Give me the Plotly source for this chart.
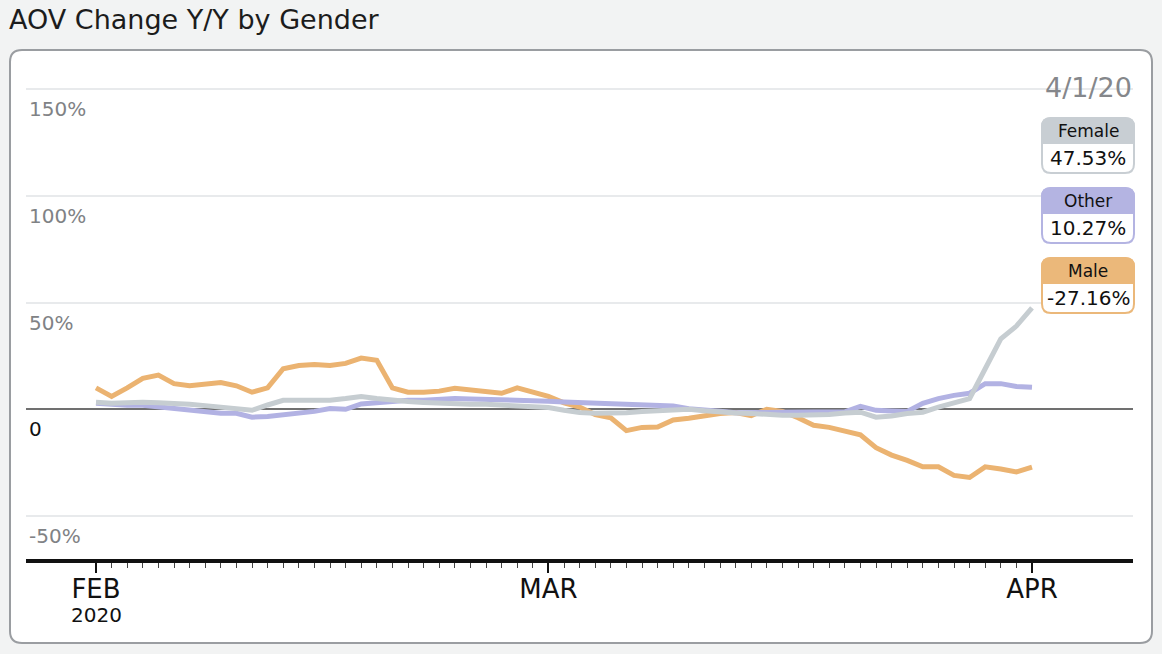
import pandas as pd
import plotly.graph_objects as go

# ---------------- data ----------------
dates = pd.date_range("2020-02-01", "2020-04-01", freq="D")

male = [10, 6, 10, 14.5, 16, 12, 11, 12, 12.5, 11,
        8, 10, 19, 20.5, 21, 20.5, 21.5, 24, 23, 10,
        8, 8, 8.5, 9.8, 9, 8.5, 7.5, 10, 8, 6,
        3, 1, -2.5, -4, -10, -8.5, -8.3, -5, -4.2, -2.8,
        -2, -1.5, -3, 0, -1, -4, -7.5, -8.5, -10, -12,
        -18, -21.5, -24, -27, -27, -31, -32, -27, -28, -29.4, -27.16]

female = [3.3, 2.8, 3, 3.3, 3, 2.8, 2.3, 1.7, 1, 0.3,
          -0.5, 2, 4.2, 4.2, 4.2, 4.2, 5, 6, 5, 4.2,
          3.6, 3.2, 2.8, 2.6, 2.4, 2.3, 2, 1.7, 1.4, 0.8,
          -0.5, -1.5, -1.9, -1.9, -1.6, -1, -0.6, -0.2, 0, -0.7,
          -1.4, -1.7, -2, -2.5, -2.8, -2.8, -2.8, -2.5, -1.8, -1.4,
          -3.7, -3.2, -2, -1.4, 1, 3, 5, 19, 33, 39, 47.53]

other = [2.8, 2.3, 1.9, 1.9, 1.2, 0.5, -0.3, -1.1, -1.9, -1.9,
         -3.7, -3.4, -2.7, -1.8, -1, 0.3, 0, 2.5, 3.2, 3.7,
         4.2, 4.2, 4.8, 5, 4.8, 4.7, 4.5, 4.4, 4.2, 3.8,
         3.4, 3.1, 2.9, 2.6, 2.3, 2, 1.8, 1.5, 0.2, -0.6,
         -0.9, -1.6, -1.8, -1.5, -1.4, -1.4, -1.4, -1.4, -1.2, 1.4,
         -0.5, -0.8, -1, 2.8, 5, 6.5, 7.5, 12, 12, 10.7, 10.27]

series_names = ["Female", "Other", "Male"]
y_tick_vals = [-50, 0, 50, 100, 150]
y_tick_text = ["-50%", "0", "50%", "100%", "150%"]
month_ticks = ["2020-02-01", "2020-03-01", "2020-04-01"]
month_labels = ["FEB", "MAR", "APR"]
title_text = "AOV Change Y/Y by Gender"

# ---------------- styling / layout ----------------
W, H = 1162, 654
ML, MR, MT, MB = 26, 29, 88, 95
PW, PH = W - ML - MR, H - MT - MB
FONT = "DejaVu Sans"

colors = {"Female": "#c6cdd1", "Other": "#b2b2e3", "Male": "#ebb371"}
heads = {"Female": "#c8ced3", "Other": "#b4b4e2", "Male": "#ebb87a"}
values = {"Female": female, "Other": other, "Male": male}


def px(x):
    return (x - ML) / PW


def py(y):
    return (H - MB - y) / PH


def rrect(x0, y0, x1, y1, r, top_only=False):
    pts = []
    pts.append(f"M {px(x0 + r)},{py(y0)}")
    pts.append(f"L {px(x1 - r)},{py(y0)}")
    pts.append(f"Q {px(x1)},{py(y0)} {px(x1)},{py(y0 + r)}")
    if top_only:
        pts.append(f"L {px(x1)},{py(y1)}")
        pts.append(f"L {px(x0)},{py(y1)}")
    else:
        pts.append(f"L {px(x1)},{py(y1 - r)}")
        pts.append(f"Q {px(x1)},{py(y1)} {px(x1 - r)},{py(y1)}")
        pts.append(f"L {px(x0 + r)},{py(y1)}")
        pts.append(f"Q {px(x0)},{py(y1)} {px(x0)},{py(y1 - r)}")
    pts.append(f"L {px(x0)},{py(y0 + r)}")
    pts.append(f"Q {px(x0)},{py(y0)} {px(x0 + r)},{py(y0)}")
    pts.append("Z")
    return " ".join(pts)


fig = go.Figure()
for name in ["Male", "Other", "Female"]:
    fig.add_trace(go.Scatter(
        x=dates, y=values[name], mode="lines", name=name,
        line=dict(color=colors[name], width=5, shape="linear"),
        hoverinfo="skip", showlegend=False,
    ))

shapes = []
# card
shapes.append(dict(type="path", xref="paper", yref="paper",
                   path=rrect(10, 50, 1152, 643, 12),
                   fillcolor="white", line=dict(color="#9a9da1", width=2),
                   layer="below"))
# white cover behind end label area (hides gridline ends)
shapes.append(dict(type="rect", xref="paper", yref="paper",
                   x0=px(1037), x1=px(1145), y0=py(320), y1=py(70),
                   fillcolor="white", line=dict(width=0), layer="between"))

annotations = [
    dict(text=title_text, x=px(7), y=py(19), xref="paper", yref="paper",
         xanchor="left", yanchor="middle", showarrow=False,
         font=dict(family=FONT, size=27, color="#1c1c1c")),
    dict(text=f"{dates[-1].month}/{dates[-1].day}/{dates[-1].strftime('%y')}",
         x=px(1134), y=py(87), xref="paper", yref="paper",
         xanchor="right", yanchor="middle", showarrow=False,
         font=dict(family=FONT, size=27, color="#85878b")),
    dict(text=str(dates[0].year), x=dates[0], y=py(615), xref="x", yref="paper",
         xanchor="center", yanchor="middle", showarrow=False,
         font=dict(family=FONT, size=20, color="#111")),
]

box_tops = {"Female": 118, "Other": 188, "Male": 258}
bx0, bx1 = 1042, 1134
for name in series_names:
    t = box_tops[name]
    b = t + 55
    shapes.append(dict(type="path", xref="paper", yref="paper",
                       path=rrect(bx0, t, bx1, b, 9),
                       fillcolor="white", line=dict(color=heads[name], width=2),
                       layer="above"))
    shapes.append(dict(type="path", xref="paper", yref="paper",
                       path=rrect(bx0, t, bx1, t + 25, 9, top_only=True),
                       fillcolor=heads[name], line=dict(color=heads[name], width=2),
                       layer="above"))
    annotations.append(dict(text=name, x=px((bx0 + bx1) / 2), y=py(t + 13),
                            xref="paper", yref="paper", xanchor="center", yanchor="middle",
                            showarrow=False, font=dict(family=FONT, size=17, color="#111")))
    annotations.append(dict(text=f"{values[name][-1]:.2f}%", x=px((bx0 + bx1) / 2), y=py(t + 40),
                            xref="paper", yref="paper", xanchor="center", yanchor="middle",
                            showarrow=False, font=dict(family=FONT, size=20, color="#111")))

ytext = [f"<span style='color:#111'>{t}</span>" if v == 0 else t
         for v, t in zip(y_tick_vals, y_tick_text)]

x_start = dates[0] - pd.Timedelta(days=70 / 15.6)
x_end = dates[0] + pd.Timedelta(days=(1133 - 96) / 15.6)

fig.update_layout(
    width=W, height=H,
    margin=dict(l=ML, r=MR, t=MT, b=MB, pad=0),
    paper_bgcolor="#f2f3f3",
    plot_bgcolor="rgba(0,0,0,0)",
    font=dict(family=FONT),
    shapes=shapes,
    annotations=annotations,
    showlegend=False,
    xaxis=dict(
        type="date", range=[x_start, x_end],
        tickmode="array", tickvals=month_ticks, ticktext=month_labels,
        ticks="outside", ticklen=10, tickwidth=1.5, tickcolor="#111",
        showline=True, linewidth=4, linecolor="#111",
        showgrid=False, zeroline=False,
        ticklabelstandoff=-6,
        tickfont=dict(family=FONT, size=26, color="#111"),
        minor=dict(tickmode="array", tickvals=list(dates), ticks="outside",
                   ticklen=5, tickwidth=1, tickcolor="#444", showgrid=False),
        fixedrange=True,
    ),
    yaxis=dict(
        range=[-70.2, 150.6],
        tickmode="array", tickvals=y_tick_vals, ticktext=ytext,
        ticklabelposition="inside", ticklabelshift=20,
        ticks="", showline=False,
        showgrid=True, gridcolor="#e8eaec", gridwidth=1.5,
        zeroline=True, zerolinecolor="#707070", zerolinewidth=1.5,
        tickfont=dict(family=FONT, size=20, color="#808285"),
        fixedrange=True,
    ),
)

fig.write_html("out.html", config={"displayModeBar": False},
               post_script="document.body.style.margin='0px';")
